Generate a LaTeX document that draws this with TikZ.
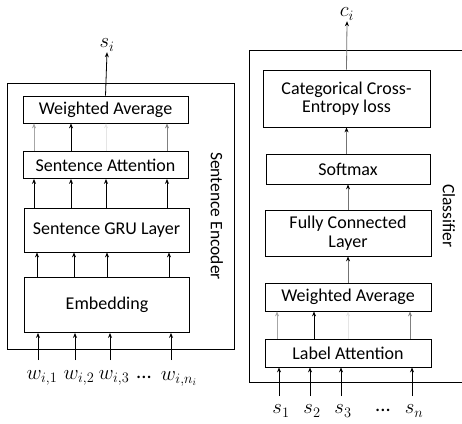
\documentclass[tikz,border=0pt]{standalone}
\usepackage{fontspec}
\setmainfont{Carlito}
\usetikzlibrary{arrows.meta}

\tikzset{
  layer/.style={draw, line width=0.8pt, minimum width=165pt, inner sep=2pt,
    align=center, font=\fontsize{18}{18.5}\selectfont},
  frame/.style={draw, line width=0.8pt},
  feed/.style={-{Stealth[length=5pt,width=4pt]}, line width=0.8pt},
  greyfeed/.style={-{Stealth[length=5pt,width=4pt,black]}, line width=0.8pt, black!55},
  lbl/.style={font=\fontsize{20.5}{22}\selectfont, inner sep=1pt},
}

\begin{document}
\begin{tikzpicture}[x=1pt, y=-1pt]
    \useasboundingbox (0,0) rectangle (462,423);

    % Frames
    \draw[frame] (7,83) rectangle (234,349);
    \begin{scope}
      \clip (0,0) rectangle (462,423);
      \draw[frame] (249,50) rectangle (480,382);
    \end{scope}
    \node[rotate=-90, font=\fontsize{17.5}{20}\selectfont] (encname) at (217,216) {Sentence Encoder};
    \node[rotate=-90, font=\fontsize{17.5}{20}\selectfont] (clsname) at (449,216) {Classifier};

    % Sentence encoder
    \node[layer, minimum height=27pt] (wavgL) at (105.5,109.5) {Weighted Average};
    \node[layer, minimum height=27pt] (attL) at (105.5,165) {Sentence Attention};
    \node[layer, minimum height=44pt] (gruL) at (106.5,230) {Sentence GRU Layer};
    \node[layer, minimum height=55pt] (embL) at (107,305) {Embedding};

    \node[lbl] (w1) at (42,378) {$w_{i,1}$};
    \node[lbl] (w2) at (79,378) {$w_{i,2}$};
    \node[lbl] (w3) at (114,378) {$w_{i,3}$};
    \node[lbl] (wdots) at (144,377) {...};
    \node[lbl] (wn) at (179,379) {$w_{i,n_i}$};
    \node[lbl] (si) at (107,45) {$s_i$};

    \foreach \x/\w in {38/w1,75/w2,110/w3,171/wn}
      \draw[feed] (\x,360) -- (embL.south -| \x,0);
    \foreach \x in {37,74,107,169}
      \draw[feed] (embL.north -| \x,0) -- (gruL.south -| \x,0);
    \foreach \x in {34,71,106,167}
      \draw[feed] (gruL.north -| \x,0) -- (attL.south -| \x,0);
    \foreach \x/\c in {34/black!35,71/black,106/black!10,167/black!50}
      \draw[feed, \c] (attL.north -| \x,0) -- (wavgL.south -| \x,0);
    \draw[feed] (wavgL.north) -- (si.south);

    % Classifier
    \node[layer, minimum width=167pt, minimum height=57pt] (cce) at (346.5,98.5) {Categorical Cross-\\Entropy loss};
    \node[layer, minimum width=164pt, minimum height=30pt] (soft) at (348,169) {Softmax};
    \node[layer, minimum width=166pt, minimum height=46pt] (fc) at (348,233) {Fully Connected\\Layer};
    \node[layer, minimum width=166pt, minimum height=28pt] (wavgR) at (348,297) {Weighted Average};
    \node[layer, minimum width=166pt, minimum height=28pt] (latt) at (348,353) {Label Attention};

    \node[lbl] (s1) at (281,411) {$s_1$};
    \node[lbl] (s2) at (312,411) {$s_2$};
    \node[lbl] (s3) at (343,411) {$s_3$};
    \node[lbl] (sdots) at (383,410) {...};
    \node[lbl] (sn) at (414,411) {$s_n$};
    \node[lbl] (ci) at (347,14) {$c_i$};

    \foreach \x/\s in {279/s1,310/s2,341/s3,412/sn}
      \draw[feed] (\x,396) -- (latt.south -| \x,0);
    \foreach \x/\c in {277/black!35,314/black,348/black!10,410/black!50}
      \draw[feed, \c] (latt.north -| \x,0) -- (wavgR.south -| \x,0);
    \draw[greyfeed] (wavgR.north -| fc) -- (fc.south);
    \draw[greyfeed] (fc.north) -- (soft.south);
    \draw[greyfeed] (soft.north -| cce) -- (cce.south);
    \draw[greyfeed] (cce.north) -- (ci.south);
\end{tikzpicture}
\end{document}
